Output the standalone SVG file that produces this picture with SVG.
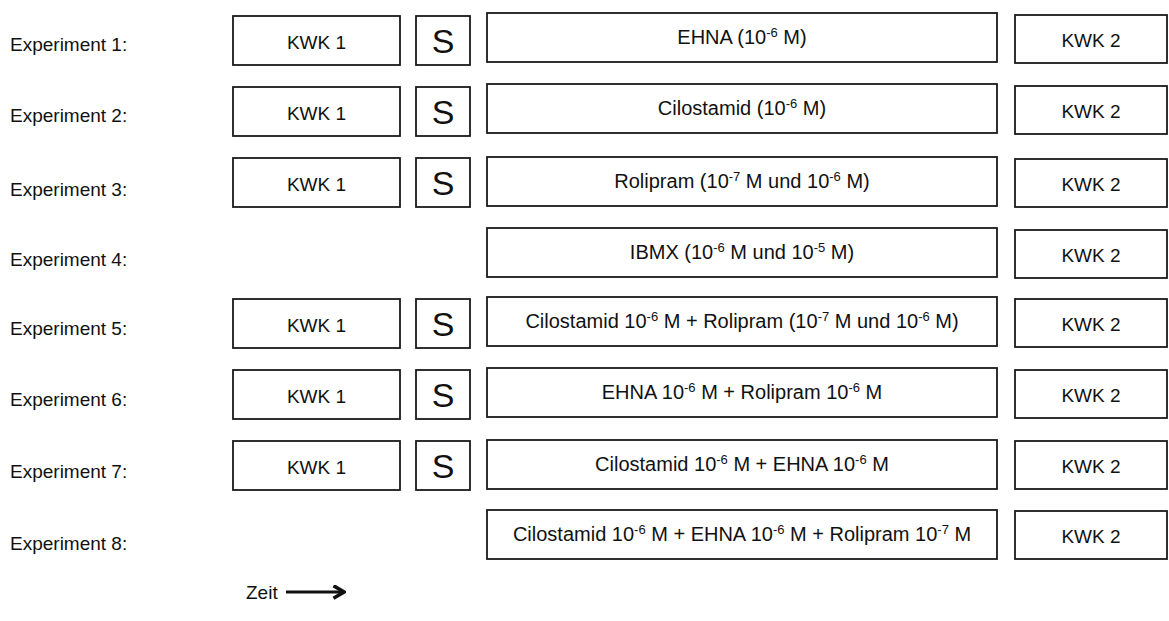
<svg xmlns="http://www.w3.org/2000/svg" width="1169" height="621" viewBox="0 0 1169 621">
<defs>
<style>
rect{fill:#fff;stroke:#1a1a1a;stroke-width:1.8}
text{font-family:"Liberation Sans",Arial,sans-serif;font-size:19px;fill:#111}
.c{text-anchor:middle}
.m{font-size:20px}
.s{font-size:34px}
.sup{font-size:13px}
</style>
<marker id="ah" viewBox="0 0 10 10" refX="8.5" refY="5" markerWidth="5" markerHeight="5" orient="auto" markerUnits="strokeWidth">
<path d="M1.5,0.8 L8.5,5 L1.5,9.2" fill="none" stroke="#111" stroke-width="2.4" stroke-linejoin="miter"/>
</marker>
</defs>
<g id="labels">
<text x="10" y="51">Experiment 1:</text>
<text x="10" y="122">Experiment 2:</text>
<text x="10" y="196">Experiment 3:</text>
<text x="10" y="266">Experiment 4:</text>
<text x="10" y="335">Experiment 5:</text>
<text x="10" y="406">Experiment 6:</text>
<text x="10" y="478">Experiment 7:</text>
<text x="10" y="550">Experiment 8:</text>
</g>
<g id="exp1">
<rect x="233" y="16" width="167" height="49"/><text class="c" x="316.5" y="49">KWK 1</text>
<rect x="416" y="16" width="54" height="49"/><text class="c s" x="443" y="53">S</text>
<rect x="487" y="13" width="510" height="49"/><text class="c m" x="742" y="44">EHNA (10<tspan class="sup" dy="-7">-6</tspan><tspan dy="7"> M)</tspan></text>
<rect x="1015" y="15" width="152" height="48"/><text class="c" x="1091" y="47">KWK 2</text>
</g>
<g id="exp2">
<rect x="233" y="87" width="167" height="49"/><text class="c" x="316.5" y="120">KWK 1</text>
<rect x="416" y="87" width="54" height="49"/><text class="c s" x="443" y="124">S</text>
<rect x="487" y="84" width="510" height="49"/><text class="c m" x="742" y="115">Cilostamid (10<tspan class="sup" dy="-7">-6</tspan><tspan dy="7"> M)</tspan></text>
<rect x="1015" y="86" width="152" height="48"/><text class="c" x="1091" y="118">KWK 2</text>
</g>
<g id="exp3">
<rect x="233" y="158" width="167" height="49"/><text class="c" x="316.5" y="191">KWK 1</text>
<rect x="416" y="158" width="54" height="49"/><text class="c s" x="443" y="195">S</text>
<rect x="487" y="157" width="510" height="49"/><text class="c m" x="742" y="188">Rolipram (10<tspan class="sup" dy="-7">-7</tspan><tspan dy="7"> M und 10</tspan><tspan class="sup" dy="-7">-6</tspan><tspan dy="7"> M)</tspan></text>
<rect x="1015" y="159" width="152" height="48"/><text class="c" x="1091" y="191">KWK 2</text>
</g>
<g id="exp4">
<rect x="487" y="228" width="510" height="49"/><text class="c m" x="742" y="259">IBMX (10<tspan class="sup" dy="-7">-6</tspan><tspan dy="7"> M und 10</tspan><tspan class="sup" dy="-7">-5</tspan><tspan dy="7"> M)</tspan></text>
<rect x="1015" y="230" width="152" height="48"/><text class="c" x="1091" y="262">KWK 2</text>
</g>
<g id="exp5">
<rect x="233" y="299" width="167" height="49"/><text class="c" x="316.5" y="332">KWK 1</text>
<rect x="416" y="299" width="54" height="49"/><text class="c s" x="443" y="336">S</text>
<rect x="487" y="297" width="510" height="49"/><text class="c m" x="742" y="328">Cilostamid 10<tspan class="sup" dy="-7">-6</tspan><tspan dy="7"> M + Rolipram (10</tspan><tspan class="sup" dy="-7">-7</tspan><tspan dy="7"> M und 10</tspan><tspan class="sup" dy="-7">-6</tspan><tspan dy="7"> M)</tspan></text>
<rect x="1015" y="299" width="152" height="48"/><text class="c" x="1091" y="331">KWK 2</text>
</g>
<g id="exp6">
<rect x="233" y="370" width="167" height="49"/><text class="c" x="316.5" y="403">KWK 1</text>
<rect x="416" y="370" width="54" height="49"/><text class="c s" x="443" y="407">S</text>
<rect x="487" y="368" width="510" height="49"/><text class="c m" x="742" y="399">EHNA 10<tspan class="sup" dy="-7">-6</tspan><tspan dy="7"> M + Rolipram 10</tspan><tspan class="sup" dy="-7">-6</tspan><tspan dy="7"> M</tspan></text>
<rect x="1015" y="370" width="152" height="48"/><text class="c" x="1091" y="402">KWK 2</text>
</g>
<g id="exp7">
<rect x="233" y="441" width="167" height="49"/><text class="c" x="316.5" y="474">KWK 1</text>
<rect x="416" y="441" width="54" height="49"/><text class="c s" x="443" y="478">S</text>
<rect x="487" y="440" width="510" height="49"/><text class="c m" x="742" y="471">Cilostamid 10<tspan class="sup" dy="-7">-6</tspan><tspan dy="7"> M + EHNA 10</tspan><tspan class="sup" dy="-7">-6</tspan><tspan dy="7"> M</tspan></text>
<rect x="1015" y="441" width="152" height="48"/><text class="c" x="1091" y="473">KWK 2</text>
</g>
<g id="exp8">
<rect x="487" y="510" width="510" height="49"/><text class="c m" x="742" y="541">Cilostamid 10<tspan class="sup" dy="-7">-6</tspan><tspan dy="7"> M + EHNA 10</tspan><tspan class="sup" dy="-7">-6</tspan><tspan dy="7"> M + Rolipram 10</tspan><tspan class="sup" dy="-7">-7</tspan><tspan dy="7"> M</tspan></text>
<rect x="1015" y="511" width="152" height="48"/><text class="c" x="1091" y="543">KWK 2</text>
</g>
<g id="connectors">
<text x="246" y="599">Zeit</text>
<line x1="286" y1="592" x2="344" y2="592" stroke="#111" stroke-width="3" marker-end="url(#ah)"/>
</g>
</svg>
